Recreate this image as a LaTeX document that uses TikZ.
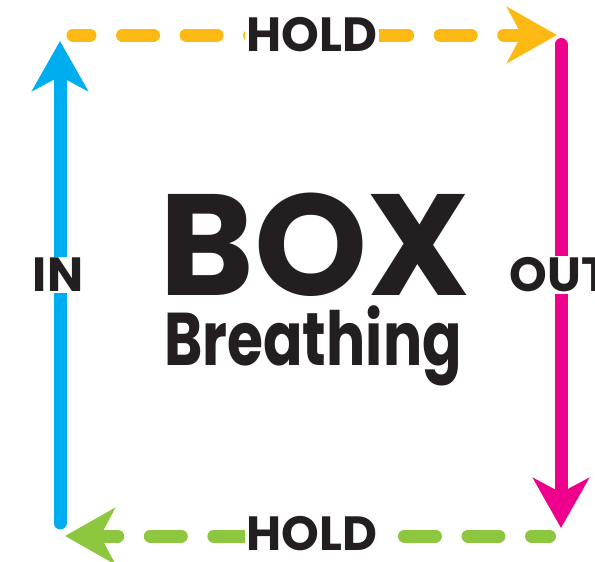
\documentclass[tikz,border=0pt]{standalone}
\usepackage{fontspec}
\setmainfont{Poppins}
\newfontfamily\narrowfont[FakeStretch=0.78]{Poppins}
\usetikzlibrary{arrows.meta}
\definecolor{brin}{RGB}{0,174,239}
\definecolor{brhold}{RGB}{253,185,19}
\definecolor{brout}{RGB}{236,0,140}
\definecolor{brrest}{RGB}{141,198,63}
\definecolor{brtext}{RGB}{35,31,32}

\begin{document}
\begin{tikzpicture}[x=0.75pt,y=-0.75pt,line width=9.75pt,line cap=round,
    >={Stealth[length=37.5pt,width=42pt,inset=11pt]},
    phase/.style={dash pattern=on 23.25pt off 24.4pt,dash phase=#1},
    word/.style={fill=white,inner sep=1pt,text=brtext,font=\bfseries\fontsize{36}{36}\selectfont}]
  \useasboundingbox (0,0) rectangle (595,561);
  % corners
  \coordinate (TL) at (73,35);
  \coordinate (TR) at (557,35);
  \coordinate (RT) at (561,44.5);
  \coordinate (RB) at (561,528);
  \coordinate (BR) at (549.5,536);
  \coordinate (BL) at (65,536);
  \coordinate (LB) at (60,523);
  \coordinate (LT) at (60,41);
  % sides
  \draw[brin,->] (LB) -- (LT);
  \draw[brout,->] (RT) -- (RB);
  \draw[brhold,->,phase=10.5pt] (TL) -- (TR);
  \draw[brrest,->,phase=9.75pt] (BR) -- (BL);
  % labels
  \node[word] (holdtop) at (312,35) {HOLD};
  \node[word] (holdbot) at (312,533.5) {HOLD};
  \node[word] (in) at (58,275) {IN};
  \node[word,anchor=west] (out) at (502,275) {OUT};
  \node[inner sep=0pt,text=brtext,font=\bfseries\fontsize{108}{108}\selectfont] (box) at (315,245) {BOX};
  \node[inner sep=0pt,text=brtext,font=\narrowfont\bfseries\fontsize{56}{56}\selectfont,anchor=base] (breath) at (313,365) {Breathing};
\end{tikzpicture}
\end{document}
